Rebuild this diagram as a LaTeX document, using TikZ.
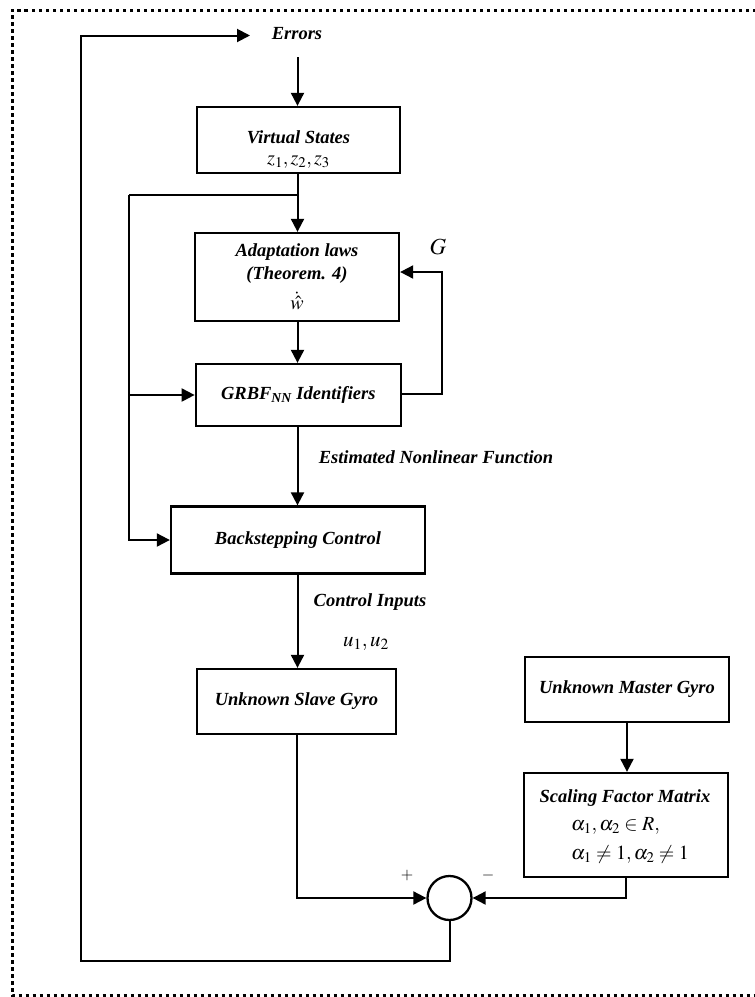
\documentclass[tikz,border=0pt]{standalone}
\usepackage{mathptmx}
\usepackage{fontspec}
\setmainfont{Liberation Serif}
\usetikzlibrary{arrows.meta}
\tikzset{
  blk/.style={draw, line width=2.3pt, rectangle, inner sep=0pt, align=center,
    font=\fontsize{18.5}{23}\selectfont\bfseries\itshape},
  lbl/.style={inner sep=0pt, font=\fontsize{18.5}{23}\selectfont\bfseries\itshape},
  mlbl/.style={inner sep=0pt, font=\fontsize{20}{24}\selectfont},
  sgn/.style={inner sep=0pt, font=\fontsize{16}{19}\selectfont},
  wire/.style={line width=2pt},
  arr/.style={wire, -{Triangle[length=13pt,width=13pt]}},
  frame/.style={line width=3pt, dash pattern=on 3.5pt off 3.5pt},
}
\begin{document}
\begin{tikzpicture}[x=1pt, y=-1pt]
  \useasboundingbox (0,0) rectangle (755,997);
  % dotted outer frame (its right side runs past the page edge)
  \draw[frame] (770,10) -- (12,10) -- (12,995.5) -- (770,995.5);

  % blocks
  \node[lbl] (err) at (297,34) {Errors};
  \node[blk, minimum width=203pt, minimum height=66pt] (vs) at (298.5,140) {};
  \node[lbl] (vst) at (298.5,137) {Virtual States};
  \node[mlbl] (vsz) at (298.5,162) {$z_1, z_2, z_3$};

  \node[blk, minimum width=204pt, minimum height=88pt] (ad) at (297,277) {};
  \node[lbl] (adt) at (297,252) {Adaptation laws};
  \node[lbl] (adth) at (297,275) {(Theorem. 4)};
  \node[mlbl] (adw) at (297,301) {$\dot{\hat{w}}$};

  \node[blk, minimum width=205pt, minimum height=62pt] (gr) at (298.3,395)
    {GRBF\textsubscript{NN} Identifiers};
  \node[blk, minimum width=254pt, minimum height=67pt] (bs) at (298,540)
    {Backstepping Control};
  \node[blk, minimum width=199pt, minimum height=65pt] (sl) at (296.5,701.5)
    {Unknown Slave Gyro};
  \node[blk, minimum width=204pt, minimum height=65pt] (ms) at (627,689.5)
    {Unknown Master Gyro};
  \node[blk, minimum width=204pt, minimum height=104pt] (sf) at (626,825) {};
  \node[lbl] (sft) at (625,798) {Scaling Factor Matrix};
  \node[mlbl, anchor=west] (sfa) at (571,826) {$\alpha_1,\alpha_2 \in R,$};
  \node[mlbl, anchor=west] (sfb) at (571,854) {$\alpha_1 \ne 1,\alpha_2 \ne 1$};
  \node[draw, circle, line width=2.3pt, minimum size=44pt, inner sep=0pt] (sum) at (449.5,898) {};

  % signal labels
  \node[mlbl] (g) at (438,247) {\fontsize{23}{26}\selectfont$G$};
  \node[lbl] (enf) at (436,457) {Estimated Nonlinear Function};
  \node[lbl] (ci) at (370,602) {Control Inputs};
  \node[mlbl] (u) at (366,644) {\fontsize{21}{25}\selectfont$u_1, u_2$};
  \node[sgn] (plus) at (407,875) {$+$};
  \node[sgn] (minus) at (488,875) {$-$};

  % routing points
  \coordinate (errin) at (250,35.5);
  \coordinate (errout) at (297.5,57);
  \coordinate (fb) at (81,961);
  \coordinate (br) at (297.5,195);
  \coordinate (lb) at (129,195);
  \coordinate (gx) at (442,394);

  % forward path
  \draw[arr] (errout) -- (vs.north -| errout);
  \draw[arr] (vs.south -| errout) -- (ad.north -| errout);
  \draw[arr] (ad.south -| errout) -- (gr.north -| errout);
  \draw[arr] (gr.south -| errout) -- (bs.north -| errout);
  \draw[arr] (bs.south -| errout) -- (sl.north -| errout);
  \draw[arr] (ms.south) -- (ms.south |- sf.north);

  % virtual states branch to the left
  \draw[wire] (br) -- (lb);
  \draw[arr] (lb) |- (bs.west);
  \draw[arr] (lb |- gr.west) -- (gr.west);

  % G feedback from the identifiers to the adaptation laws
  \draw[arr] (gr.east |- gx) -- (gx) |- ([yshift=5pt]ad.east);

  % error summation
  \draw[arr] (sl.south) |- (sum.west);
  \draw[arr] (sf.south) |- (sum.east);
  \draw[arr] (sum.south) |- (fb) -- (fb |- errin) -- (errin);
\end{tikzpicture}
\end{document}
